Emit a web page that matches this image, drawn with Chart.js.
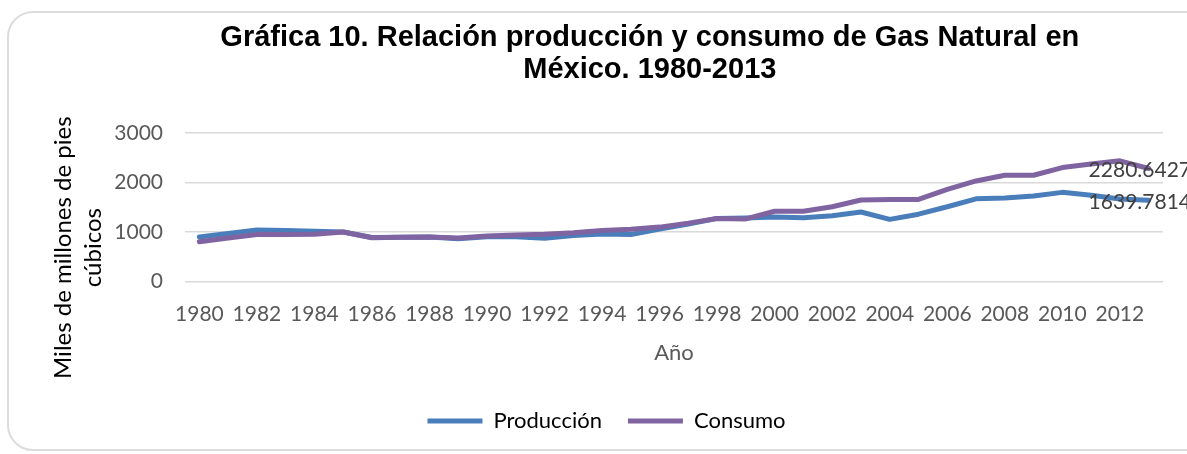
<!DOCTYPE html>
<html lang="es">
<head>
<meta charset="utf-8">
<title>Gas Natural México 1980-2013</title>
<script src="https://cdn.jsdelivr.net/npm/chart.js@4.4.1/dist/chart.umd.min.js"></script>
<style>
    html, body { margin: 0; padding: 0; background: #fff; overflow: hidden; }
    #wrap { position: relative; width: 1187px; height: 454px; }
    #frame {
        position: absolute; left: 7px; top: 11px; width: 1220px; height: 440px;
        border: 2px solid #dcdcdc; border-radius: 26px; box-sizing: border-box;
    }
    #grafica { position: absolute; left: 0; top: 0; }
</style>
</head>
<body>
<div id="wrap">
    <div id="frame"></div>
    <canvas id="grafica" width="1187" height="454"></canvas>
</div>
<script>
const years = [
    '1980', '1981', '1982', '1983', '1984', '1985', '1986', '1987', '1988', '1989',
    '1990', '1991', '1992', '1993', '1994', '1995', '1996', '1997', '1998', '1999',
    '2000', '2001', '2002', '2003', '2004', '2005', '2006', '2007', '2008', '2009',
    '2010', '2011', '2012', '2013'
];

// miles de millones de pies cúbicos
const produccion = [
    900, 970, 1040, 1030, 1015, 1000, 890, 895, 900, 865,
    905, 905, 875, 930, 960, 950, 1060, 1160, 1275, 1285,
    1305, 1290, 1330, 1405, 1255, 1360, 1510, 1670, 1685, 1725,
    1800, 1740, 1665, 1639.7814
];

const consumo = [
    805, 880, 950, 950, 955, 1000, 885, 895, 900, 880,
    920, 940, 955, 985, 1030, 1055, 1100, 1180, 1275, 1265,
    1420, 1420, 1510, 1645, 1658, 1658, 1860, 2030, 2145, 2145,
    2300, 2370, 2435, 2280.6427
];

const yTicks = [0, 1000, 2000, 3000];

const tituloLineas = [
    'Gráfica 10. Relación producción y consumo de Gas Natural en      ',
    'México. 1980-2013      '
];
const ejeYLineas = ['Miles de millones de pies', 'cúbicos'];
const ejeXTitulo = 'Año';

const fuente = 'Lato, "Open Sans", sans-serif';

// rotated two-line title for the value axis
const ejeYTitulo = {
    id: 'ejeYTitulo',
    afterDraw(chart) {
        const ctx = chart.ctx;
        const area = chart.chartArea;
        ctx.save();
        ctx.font = '24px ' + fuente;
        ctx.fillStyle = '#000';
        ctx.textAlign = 'center';
        ctx.textBaseline = 'middle';
        ctx.translate(63, area.bottom - 34);
        ctx.rotate(-Math.PI / 2);
        ejeYLineas.forEach((linea, i) => ctx.fillText(linea, 0, i * 30));
        ctx.restore();
    }
};

// value of the last point of every series
const ultimoValor = {
    id: 'ultimoValor',
    afterDatasetsDraw(chart) {
        const ctx = chart.ctx;
        ctx.save();
        ctx.font = '21px ' + fuente;
        ctx.fillStyle = '#404040';
        ctx.textAlign = 'left';
        ctx.textBaseline = 'middle';
        chart.data.datasets.forEach((ds, i) => {
            const meta = chart.getDatasetMeta(i);
            const last = meta.data.length - 1;
            const pt = meta.data[last];
            ctx.fillText(String(ds.data[last]), pt.x - 60, pt.y + 2);
        });
        ctx.restore();
    }
};

new Chart(document.getElementById('grafica'), {
    type: 'line',
    data: {
        labels: years,
        datasets: [
            {
                label: 'Producción',
                data: produccion,
                borderColor: '#4a7ebb',
                backgroundColor: '#4a7ebb',
                borderWidth: 5,
                borderCapStyle: 'round',
                borderJoinStyle: 'round',
                pointRadius: 0,
                tension: 0,
                order: 1
            },
            {
                label: 'Consumo',
                data: consumo,
                borderColor: '#8064a2',
                backgroundColor: '#8064a2',
                borderWidth: 5,
                borderCapStyle: 'round',
                borderJoinStyle: 'round',
                pointRadius: 0,
                tension: 0,
                order: 0
            }
        ]
    },
    options: {
        responsive: false,
        animation: false,
        layout: { padding: { left: 50, right: 24, top: 0, bottom: 12 } },
        plugins: {
            title: {
                display: true,
                fullSize: false,
                text: tituloLineas,
                color: '#000',
                font: { family: '"Liberation Sans", Arial, sans-serif', size: 29, weight: 'bold', lineHeight: 1.1 },
                padding: { top: 22, bottom: 47 }
            },
            legend: {
                position: 'bottom',
                labels: {
                    usePointStyle: true,
                    pointStyle: 'line',
                    pointStyleWidth: 55,
                    padding: 26,
                    color: '#000',
                    font: { family: fuente, size: 22 },
                    sort: (a, b) => a.datasetIndex - b.datasetIndex
                }
            },
            tooltip: { enabled: false }
        },
        scales: {
            x: {
                offset: true,
                grid: { display: false },
                border: { display: false },
                ticks: {
                    autoSkip: false,
                    maxRotation: 0,
                    padding: 12,
                    color: '#595959',
                    font: { family: fuente, size: 21 },
                    callback: (v, i) => (i % 2 === 0 ? years[i] : '')
                },
                title: {
                    display: true,
                    text: ejeXTitulo,
                    color: '#595959',
                    font: { family: fuente, size: 22 },
                    padding: { top: 0, bottom: 18 }
                },
                afterFit: (scale) => { scale.height = 102.3; }
            },
            y: {
                min: 0,
                max: 3000,
                border: { display: false },
                grid: { color: '#d9d9d9', lineWidth: 1.5, drawTicks: false },
                afterBuildTicks: (scale) => { scale.ticks = yTicks.map(v => ({ value: v })); },
                ticks: {
                    padding: 22,
                    color: '#595959',
                    font: { family: fuente, size: 21 },
                    callback: (v) => String(v)
                },
                afterFit: (scale) => { scale.width = 135; }
            }
        }
    },
    plugins: [ejeYTitulo, ultimoValor]
});
</script>
</body>
</html>
